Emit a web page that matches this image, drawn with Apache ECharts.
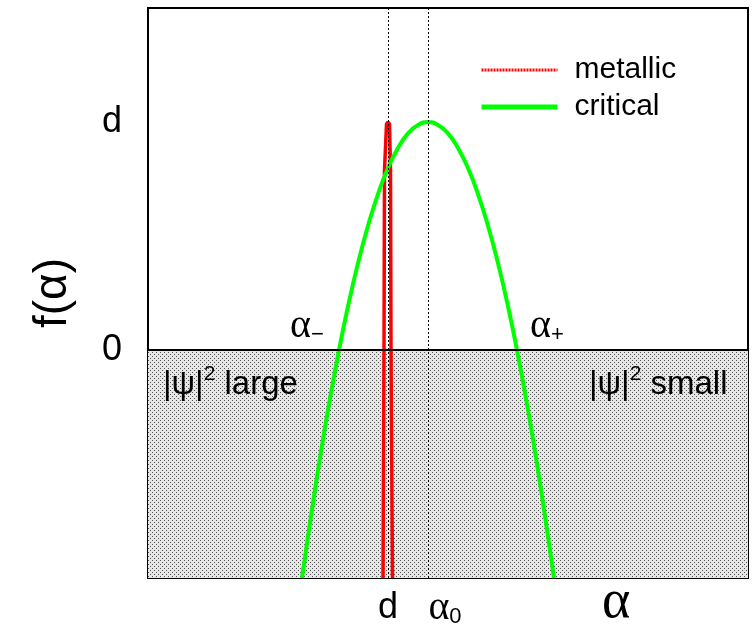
<!DOCTYPE html>
<html>
<head>
<meta charset="utf-8">
<script src="https://cdn.jsdelivr.net/npm/echarts@6/dist/echarts.min.js"></script>
<style>html,body{margin:0;padding:0;background:#fff;}#c{width:755px;height:637px;}</style>
</head>
<body>
<div id="c"></div>
<script>
// x positions in arbitrary units; d = 6, alpha0 = 7
const xTicks = { 6: 'd', 7: 'alpha0' };
const yTicks = { 0: '0', 1: 'd' };
const refLinesX = [6, 7];
const zeroLevel = 0;
const metallicX = [5.875, 5.9, 5.9125, 5.9625, 6.0, 6.0375, 6.0625, 6.075, 6.1125];
const metallicY = [-1.0, 0.0, 0.789, 0.991, 1.0, 0.991, 0.789, 0.0, -1.0];
const criticalX = [3.85, 4.0, 4.25, 4.5, 4.75, 5.0, 5.25, 5.5, 5.75, 6.0, 6.25, 6.5, 6.75, 7.0,
  7.25, 7.5, 7.75, 8.0, 8.25, 8.5, 8.75, 9.0, 9.25, 9.5, 9.75, 10.0, 10.15];
const criticalY = [-1.0, -0.818, -0.528, -0.262, -0.023, 0.192, 0.381, 0.545, 0.684, 0.798, 0.886, 0.950, 0.987, 1.0,
  0.987, 0.950, 0.886, 0.798, 0.684, 0.545, 0.381, 0.192, -0.023, -0.262, -0.528, -0.818, -1.0];

const pc = document.createElement('canvas');
pc.width = 4; pc.height = 4;
const pctx = pc.getContext('2d');
pctx.fillStyle = '#e6e6e6'; pctx.fillRect(0, 0, 4, 4);
pctx.fillStyle = '#555555';
pctx.fillRect(0, 0, 1, 1); pctx.fillRect(2, 2, 1, 1);

const SANS = 'Liberation Sans';
const SERIF = 'Liberation Serif';
const chart = echarts.init(document.getElementById('c'), null, { renderer: 'canvas' });
chart.setOption({
  animation: false,
  backgroundColor: '#fff',
  grid: { left: 148, top: 8, right: 7, bottom: 59, show: true, borderColor: '#000', borderWidth: 2, backgroundColor: 'transparent' },
  legend: {
    orient: 'vertical', left: 479, top: 55, padding: 0, itemWidth: 76, itemHeight: 30, itemGap: 7,
    itemStyle: { opacity: 0 },
    textStyle: { fontFamily: SANS, fontSize: 30, color: '#000', padding: [0, 0, 0, 12] },
    data: [
      { name: 'metallic', lineStyle: { color: '#ff0000', width: 3, type: [2, 1] } },
      { name: 'critical', lineStyle: { color: '#00ff00', width: 5 } }
    ]
  },
  xAxis: {
    type: 'value', min: 0, max: 15, interval: 1,
    axisLine: { show: false }, axisTick: { show: false }, splitLine: { show: false },
    axisLabel: {
      margin: 10,
      formatter: v => xTicks[v] === 'd' ? '{t|d}' : (xTicks[v] === 'alpha0' ? '{sp|}{a|α}{s|0}' : ''),
      rich: {
        t: { fontFamily: SANS, fontSize: 36, color: '#000', lineHeight: 40 },
        sp: { width: 34 },
        a: { fontFamily: SERIF, fontSize: 40, color: '#000', lineHeight: 40 },
        s: { fontFamily: SANS, fontSize: 22, color: '#000', verticalAlign: 'bottom', lineHeight: 16 }
      }
    }
  },
  yAxis: {
    type: 'value', min: -1, max: 1.5, interval: 0.5,
    axisLine: { show: false }, axisTick: { show: false }, splitLine: { show: false },
    axisLabel: { margin: 26, fontFamily: SANS, fontSize: 36, color: '#000', formatter: v => (yTicks[v] !== undefined ? yTicks[v] : '') },
    name: 'f(α)', nameLocation: 'middle', nameGap: 72,
    nameTextStyle: { fontFamily: SANS, fontSize: 46, color: '#000' }
  },
  series: [
    {
      type: 'line', name: 'bg', z: 1, data: [], silent: true,
      markArea: {
        silent: true,
        itemStyle: { color: { image: pc, repeat: 'repeat' } },
        data: [[{ yAxis: -1 }, { yAxis: zeroLevel }]]
      },
      markLine: {
        silent: true, symbol: 'none', label: { show: false },
        data: [
          { xAxis: refLinesX[0], lineStyle: { color: '#000', width: 1, type: [2, 2] } },
          { xAxis: refLinesX[1], lineStyle: { color: '#000', width: 1, type: [2, 2] } },
          { yAxis: zeroLevel, lineStyle: { color: '#000', width: 2, type: 'solid' } }
        ]
      }
    },
    {
      type: 'line', name: 'metallic', z: 3, symbol: 'none',
      data: metallicX.map((x, i) => [x, metallicY[i]]),
      lineStyle: { color: '#ff0000', width: 3.5 },
      itemStyle: { color: '#ff0000' }
    },
    {
      type: 'line', name: 'critical', z: 4, symbol: 'none', smooth: true,
      data: criticalX.map((x, i) => [x, criticalY[i]]),
      lineStyle: { color: '#00ff00', width: 4 },
      itemStyle: { color: '#00ff00' }
    }
  ],
  graphic: [
    { type: 'text', left: 290, top: 306, z: 10, style: { text: '{a|α}{s|−}', rich: {
      a: { fontFamily: SERIF, fontSize: 40, fill: '#000', lineHeight: 40 },
      s: { fontFamily: SANS, fontSize: 22, fill: '#000', verticalAlign: 'bottom', lineHeight: 14 } } } },
    { type: 'text', left: 530, top: 306, z: 10, style: { text: '{a|α}{s|+}', rich: {
      a: { fontFamily: SERIF, fontSize: 40, fill: '#000', lineHeight: 40 },
      s: { fontFamily: SANS, fontSize: 22, fill: '#000', verticalAlign: 'bottom', lineHeight: 14 } } } },
    { type: 'text', left: 163, top: 364, z: 10, style: { text: '{p||ψ|}{s|2}{t| large}', rich: {
      p: { fontFamily: SANS, fontSize: 33, fill: '#000', lineHeight: 42 },
      s: { fontFamily: SANS, fontSize: 21, fill: '#000', verticalAlign: 'top', lineHeight: 20 },
      t: { fontFamily: SANS, fontSize: 33, fill: '#000', lineHeight: 42 } } } },
    { type: 'text', left: 589, top: 364, z: 10, style: { text: '{p||ψ|}{s|2}{t| small}', rich: {
      p: { fontFamily: SANS, fontSize: 33, fill: '#000', lineHeight: 42 },
      s: { fontFamily: SANS, fontSize: 21, fill: '#000', verticalAlign: 'top', lineHeight: 20 },
      t: { fontFamily: SANS, fontSize: 33, fill: '#000', lineHeight: 42 } } } },
    { type: 'text', left: 602, top: 576, z: 10, style: { text: 'α', fontFamily: SERIF, fontSize: 54, fill: '#000' } }
  ]
});
</script>
</body>
</html>
